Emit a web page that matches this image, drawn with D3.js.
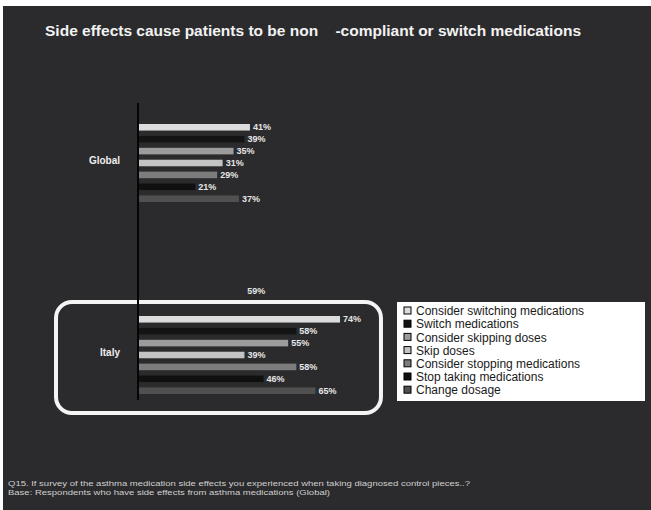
<!DOCTYPE html>
<html><head><meta charset="utf-8">
<script src="https://cdn.jsdelivr.net/npm/d3@7"></script>
<style>body{margin:0;background:#fff;}svg{display:block;}</style>
</head><body>
<script>
const groups = ["Global", "Italy"];
const seriesNames = ["Consider switching medications","Switch medications","Consider skipping doses","Skip doses","Consider stopping medications","Stop taking medications","Change dosage"];
const globalValues = [41, 39, 35, 31, 29, 21, 37];
const italyValues = [74, 58, 55, 39, 58, 46, 65];
const seriesColors = ["#dcdcdc","#141414","#9c9c9c","#c4c4c4","#7c7c7c","#101010","#505050"];
const strayLabel = "59%";
const title = "Side effects cause patients to be non    -compliant or switch medications";
const footnotes = ["Q15. If survey of the asthma medication side effects you experienced when taking diagnosed control pieces..?",
                   "Base: Respondents who have side effects from asthma medications (Global)"];

const W = 651, H = 510;
const svg = d3.select("body").append("svg").attr("width", W).attr("height", H);
svg.append("rect").attr("x",3).attr("y",6).attr("width",W-3).attr("height",H-6).attr("fill","#2b2b2d");

const font = "'Liberation Sans', Arial, sans-serif";
svg.append("text").attr("x",45).attr("y",36).attr("fill","#f2f2f2").attr("font-family",font)
  .attr("font-size",15).attr("font-weight","bold").style("white-space","pre")
  .attr("textLength",536).attr("lengthAdjust","spacingAndGlyphs").text(title);

const x = d3.scaleLinear().domain([0,100]).range([138, 411]);
const y = d3.scalePoint().domain(groups).range([64, 448]).padding(0.5);
const yIn = d3.scaleBand().domain(seriesNames).range([-36, 42]).paddingInner(0.45);

const data = groups.map((g,i)=>({group:g, values:(i===0?globalValues:italyValues)}));

// Italy highlight box
const iy = y("Italy");
svg.append("rect").attr("x", x(0)-82).attr("y", iy-50).attr("width", x(89)-x(0)+82).attr("height", 111)
  .attr("rx",16).attr("fill","none").attr("stroke","#f4f4f4").attr("stroke-width",4);

const g = svg.append("g");
data.forEach(d=>{
  const gy = y(d.group);
  d.values.forEach((v,j)=>{
    const by = gy + yIn(seriesNames[j]);
    g.append("rect").attr("x", x(0)).attr("y", by).attr("width", x(v)-x(0)).attr("height", yIn.bandwidth())
      .attr("fill", seriesColors[j]);
    g.append("text").attr("x", x(v)+3).attr("y", by + yIn.bandwidth()/2).attr("dy","0.35em")
      .attr("fill","#e6e6e6").attr("font-family",font).attr("font-size",9).attr("font-weight","bold").text(v+"%");
  });
  svg.append("text").attr("x", x(0)-18).attr("y", gy).attr("dy","0.35em").attr("text-anchor","end")
    .attr("fill","#eeeeee").attr("font-family",font).attr("font-size",10).attr("font-weight","bold").text(d.group);
});

// axis line
svg.append("line").attr("x1",x(0)).attr("x2",x(0)).attr("y1",103).attr("y2",400).attr("stroke","#050505").attr("stroke-width",2);

svg.append("text").attr("x", x(40)).attr("y", iy-61).attr("dy","0.35em").attr("fill","#e6e6e6")
  .attr("font-family",font).attr("font-size",9).attr("font-weight","bold").text(strayLabel);

// legend
const lg = svg.append("g");
lg.append("rect").attr("x",397).attr("y",302).attr("width",248).attr("height",99).attr("fill","#ffffff");
seriesNames.forEach((s,j)=>{
  const ly = 311 + j*13.2;
  lg.append("rect").attr("x",404).attr("y",ly-4).attr("width",7).attr("height",7)
    .attr("fill",seriesColors[j]).attr("stroke","#000").attr("stroke-width",1);
  lg.append("text").attr("x",416).attr("y",ly).attr("dy","0.35em").attr("fill","#1a1a1a")
    .attr("font-family",font).attr("font-size",12).text(s);
});

const footW = [462, 322];
footnotes.forEach((t,i)=>{
  svg.append("text").attr("x",8).attr("y",486+i*9).attr("fill","#cfcfcf").attr("font-family",font)
    .attr("font-size",7.5).attr("textLength",footW[i]).attr("lengthAdjust","spacingAndGlyphs").text(t);
});
</script>
</body></html>
